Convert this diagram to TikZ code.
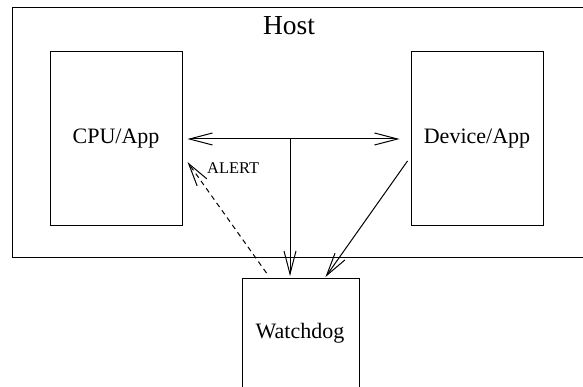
\documentclass[tikz,border=0pt]{standalone}
\usepackage{fontspec}
\setmainfont{Liberation Serif}
\usetikzlibrary{arrows.meta}

\tikzset{
  box/.style={draw, line width=1pt, inner sep=0pt},
  vee/.style={-{Straight Barb[length=23pt, width=12pt, line width=1pt]}},
  link/.style={line width=1pt}
}

\begin{document}
\begin{tikzpicture}[x=1pt, y=-1pt]
\clip (0, 0) rectangle (583, 387);
\fill[white] (0, 0) rectangle (583, 387);
\node[box, minimum width=600pt, minimum height=250pt, anchor=north west] (host) at (12, 7) {};
\node[font=\fontsize{27.5}{30}\selectfont] (hosttitle) at (289, 26) {Host};
\node[box, minimum width=132pt, minimum height=174pt, font=\fontsize{22}{24}\selectfont] (cpu) at (116, 139) {CPU/App};
\node[box, minimum width=132pt, minimum height=174pt, font=\fontsize{22}{24}\selectfont] (dev) at (477, 139) {Device/App};
\node[box, minimum width=117pt, minimum height=112pt, anchor=north] (dog) at (300.5, 278) {};
\node[font=\fontsize{22}{24}\selectfont] (doglabel) at (300, 333) {Watchdog};
\coordinate (bus) at (290, 139);
\coordinate (devout) at ([xshift=-3pt, yshift=-22pt]dev.west);
\draw[link, vee] (bus) -- ([xshift=5pt]cpu.east);
\draw[link, vee] (bus) -- ([xshift=-11pt]dev.west);
\draw[link, vee] (bus) -- ([yshift=2pt]dog.north -| bus);
\draw[link, vee] (devout) -- ([xshift=25pt, yshift=1pt]dog.north);
\draw[link, vee, dashed, dash pattern=on 5pt off 4pt] ([xshift=-34pt, yshift=5pt]dog.north) -- ([xshift=5pt, yshift=-23pt]cpu.east);
\node[anchor=west, inner sep=0pt, font=\fontsize{16.4}{18}\selectfont] (alert) at (207, 168) {ALERT};
\end{tikzpicture}
\end{document}
